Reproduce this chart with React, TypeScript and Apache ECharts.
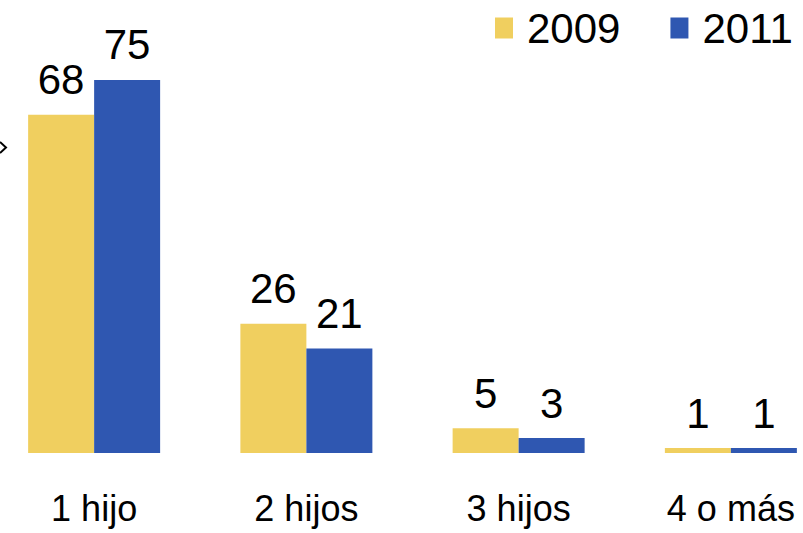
import React, { useEffect, useRef } from "react";
import * as echarts from "echarts";

const categories = ["1 hijo", "2 hijos", "3 hijos", "4 o más"];
const series2009 = [68, 26, 5, 1];
const series2011 = [75, 21, 3, 1];
const seriesNames = ["2009", "2011"];

const FONT = "'Liberation Sans', Arial, sans-serif";
const SHIFT = 12; // chart canvas starts 12px left of the visible page
const CHART_W = 849;

export default function App() {
  const ref = useRef<HTMLDivElement>(null);
  useEffect(() => {
    document.body.style.margin = "0";
    const chart = echarts.init(ref.current!, null, { renderer: "svg" });
    const label = {
      show: true,
      position: "top",
      distance: 14,
      fontSize: 42,
      color: "#000",
      fontFamily: FONT,
    };
    chart.setOption({
      animation: false,
      backgroundColor: "#fff",
      legend: {
        data: seriesNames,
        left: 495 + SHIFT,
        top: 7,
        padding: 0,
        itemWidth: 18,
        itemHeight: 21,
        itemGap: 50,
        icon: "rect",
        textStyle: { fontSize: 42, color: "#000", fontFamily: FONT, padding: [0, 0, 0, 9] },
      },
      grid: { left: 0, right: 0, top: 55, bottom: 80, containLabel: false },
      xAxis: {
        type: "category",
        data: categories,
        axisLine: { show: false },
        axisTick: { show: false },
        axisLabel: { fontSize: 36, color: "#000", fontFamily: FONT, margin: 37, interval: 0 },
      },
      yAxis: {
        type: "value",
        min: 0,
        max: 80,
        show: false,
        splitLine: { show: false },
      },
      graphic: [
        {
          type: "polyline",
          shape: { points: [[SHIFT, 142], [SHIFT + 6, 147.5], [SHIFT, 153]] },
          style: { stroke: "#000", lineWidth: 2, fill: "none" },
        },
      ],
      series: [
        {
          name: seriesNames[0],
          type: "bar",
          data: series2009,
          barWidth: 66,
          barGap: "0%",
          itemStyle: { color: "#F0CF5F" },
          label,
        },
        {
          name: seriesNames[1],
          type: "bar",
          data: series2011,
          barWidth: 66,
          barGap: "0%",
          itemStyle: { color: "#2F57B1" },
          label,
        },
      ],
    });
    return () => chart.dispose();
  }, []);
  return (
    <div style={{ width: 803, height: 533, overflow: "hidden", position: "relative" }}>
      <div ref={ref} style={{ position: "absolute", left: -SHIFT, top: 0, width: CHART_W, height: 533 }} />
    </div>
  );
}
